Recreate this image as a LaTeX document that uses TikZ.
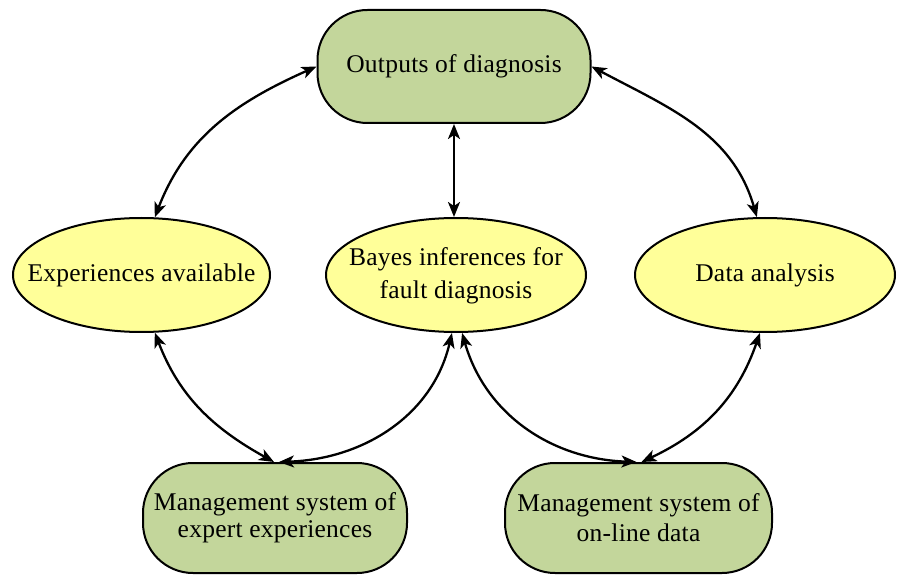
\documentclass[tikz,border=0pt]{standalone}
\usepackage{fontspec}
\setmainfont{Liberation Serif}[LetterSpace=1]
\usetikzlibrary{arrows.meta,shapes.geometric}

\definecolor{boxgreen}{HTML}{C3D69B}
\definecolor{ellyellow}{HTML}{FFFF99}

% text of zero width, so that the ellipse keeps its set size
\newcommand{\flattext}[1]{\makebox[0pt]{\begin{tabular}{@{}c@{}}#1\end{tabular}}}

\begin{document}
\begin{tikzpicture}[x=1pt,y=1pt,
  font=\fontsize{25.5}{33}\selectfont,
  every node/.style={align=center, inner sep=0pt, line width=2pt, draw=black},
  stadium/.style={rectangle, rounded corners=50pt, fill=boxgreen},
  oval/.style={ellipse, fill=ellyellow, minimum width=260pt, minimum height=114pt},
  link/.style={line width=2.3pt, {Stealth[length=15pt,width=12pt,inset=4pt]}-{Stealth[length=15pt,width=12pt,inset=4pt]}}
]
\useasboundingbox (0,0) rectangle (898,574);

% nodes
\node[stadium, minimum width=273pt, minimum height=113pt] (out) at (454,507.5) {Outputs of diagnosis};
\node[oval, minimum width=257pt] (exp) at (141.5,299) {\flattext{Experiences available}};
\node[oval] (bayes) at (456,299) {\flattext{Bayes inferences for\\fault diagnosis}};
\node[oval] (data) at (765,299) {\flattext{Data analysis}};
\node[stadium, minimum width=264pt, minimum height=110pt, font=\fontsize{25.5}{27}\selectfont]
  (mg1) at (275,56) {Management system of\\expert experiences};
\node[stadium, minimum width=267pt, minimum height=110pt, font=\fontsize{25.5}{30}\selectfont]
  (mg2) at (638.5,56) {Management system of\\on-line data};

% connectors
\draw[link] (out.west) to[out=204, in=69] (exp.77);
\draw[link] (out.east) to[out=-28, in=106] (data.98);
\draw[link] (out.south) -- (out.south |- bayes.north);
\draw[link] (exp.-77) to[out=-69, in=151] ([xshift=-1pt]mg1.north);
\draw[link] (bayes.-94) to[out=-103, in=2] ([xshift=4pt]mg1.north);
\draw[link] (bayes.-84) to[out=-74, in=178] ([xshift=-2pt]mg2.north);
\draw[link] (data.-95) to[out=-109, in=25] ([xshift=3pt]mg2.north);
\end{tikzpicture}
\end{document}
